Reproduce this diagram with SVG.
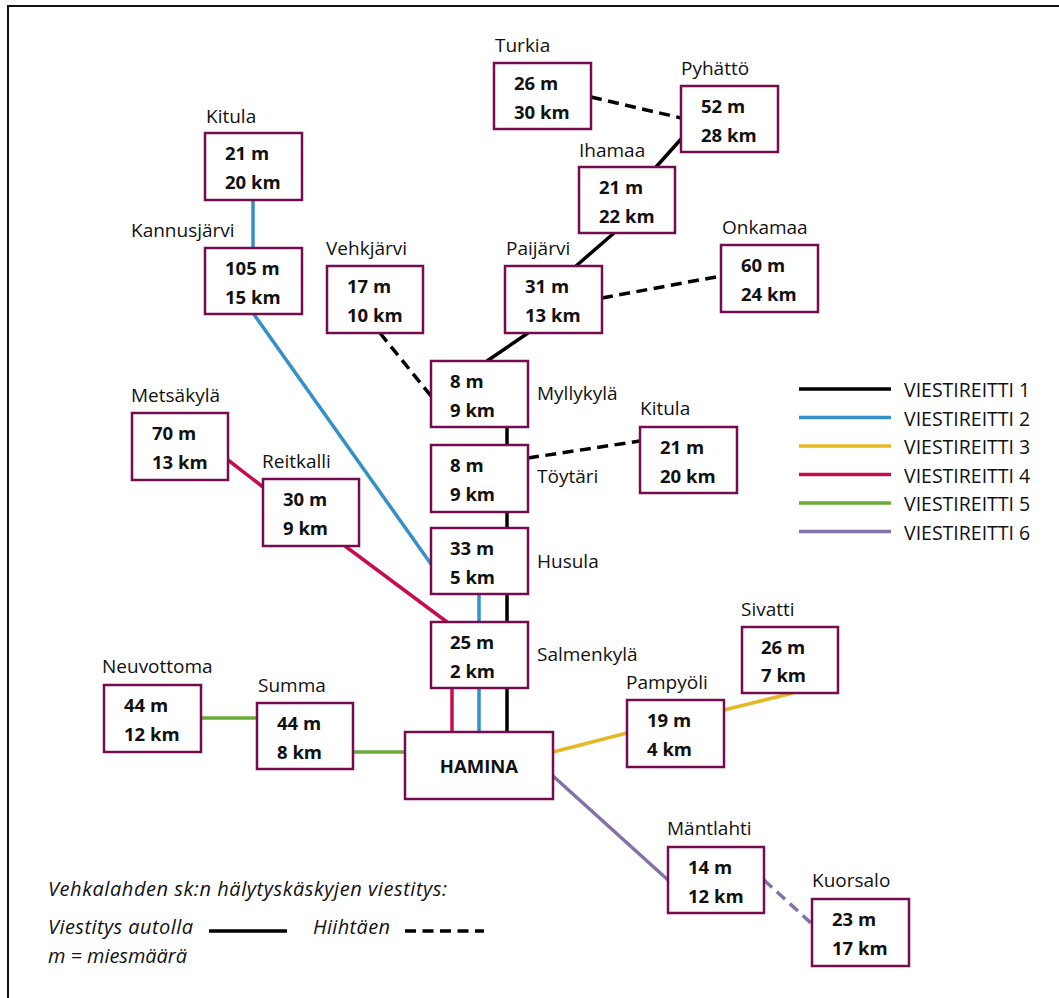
<svg xmlns="http://www.w3.org/2000/svg" width="1059" height="998" viewBox="0 0 1059 998">
<style>
.box{fill:#fff;stroke:#760c50;stroke-width:2.5}
.lbl{font-family:"Open Sans","Noto Sans","DejaVu Sans",sans-serif;font-size:19px;fill:#111}
.leg{font-family:"Open Sans","Noto Sans","DejaVu Sans",sans-serif;font-size:19.5px;fill:#111}
.val{font-family:"Open Sans","Noto Sans","DejaVu Sans",sans-serif;font-size:18.5px;font-weight:bold;fill:#111}
.it{font-family:"Open Sans","Noto Sans","DejaVu Sans",sans-serif;font-size:20px;font-style:italic;fill:#111}
.ln{fill:none;stroke-width:3.5}
.dash{stroke-dasharray:11 6.5}
.r1{stroke:#000}
.r2{stroke:#3590c9}
.r3{stroke:#e6b825}
.r4{stroke:#c80c4e}
.r5{stroke:#6aab3a}
.r6{stroke:#8272a8}
</style>
<rect x="8" y="6" width="1100" height="1100" fill="#fff" stroke="#111" stroke-width="2"/>
<g id="connectors">
<line class="ln r1" x1="682" y1="138" x2="656" y2="167"/>
<line class="ln r1" x1="614" y1="233" x2="576" y2="266"/>
<line class="ln r1" x1="528" y1="333" x2="487" y2="361"/>
<line class="ln r1" x1="507" y1="427" x2="507" y2="445"/>
<line class="ln r1" x1="507" y1="512" x2="507" y2="528"/>
<line class="ln r1" x1="507" y1="594" x2="507" y2="622"/>
<line class="ln r1" x1="507" y1="688" x2="507" y2="732"/>
<line class="ln r1 dash" x1="591" y1="97" x2="681" y2="118"/>
<line class="ln r1 dash" x1="380" y1="333" x2="431" y2="396"/>
<line class="ln r1 dash" x1="602" y1="298" x2="721" y2="276"/>
<line class="ln r1 dash" x1="528" y1="458" x2="640" y2="441"/>
<line class="ln r2" x1="253" y1="200" x2="253" y2="248"/>
<line class="ln r2" x1="253" y1="313" x2="431" y2="564"/>
<line class="ln r2" x1="479" y1="594" x2="479" y2="622"/>
<line class="ln r2" x1="479" y1="688" x2="479" y2="732"/>
<line class="ln r4" x1="228" y1="460" x2="263" y2="487"/>
<line class="ln r4" x1="345" y1="546" x2="447" y2="622"/>
<line class="ln r4" x1="452" y1="688" x2="452" y2="732"/>
<line class="ln r5" x1="201" y1="718" x2="257" y2="718"/>
<line class="ln r5" x1="353" y1="752" x2="405" y2="752"/>
<line class="ln r3" x1="553" y1="752" x2="627" y2="733"/>
<line class="ln r3" x1="724" y1="710" x2="793" y2="693"/>
<line class="ln r6" x1="553" y1="776" x2="668" y2="880"/>
<line class="ln r6 dash" x1="764" y1="880" x2="812" y2="924"/>
</g>
<g id="n-turkia"><rect class="box" x="494" y="63" width="97" height="66"/><text class="lbl" x="495" y="52">Turkia</text><text class="val" x="514" y="90">26 m</text><text class="val" x="514" y="119">30 km</text></g>
<g id="n-pyhatto"><rect class="box" x="681" y="86" width="97" height="66"/><text class="lbl" x="681" y="75">Pyhättö</text><text class="val" x="701" y="113">52 m</text><text class="val" x="701" y="142">28 km</text></g>
<g id="n-kitula1"><rect class="box" x="205" y="133" width="97" height="67"/><text class="lbl" x="206" y="123">Kitula</text><text class="val" x="225" y="160">21 m</text><text class="val" x="225" y="189">20 km</text></g>
<g id="n-kannusjarvi"><rect class="box" x="205" y="248" width="97" height="66"/><text class="lbl" x="131" y="237">Kannusjärvi</text><text class="val" x="225" y="275">105 m</text><text class="val" x="225" y="304">15 km</text></g>
<g id="n-vehkjarvi"><rect class="box" x="327" y="266" width="96" height="67"/><text class="lbl" x="326" y="255">Vehkjärvi</text><text class="val" x="347" y="293">17 m</text><text class="val" x="347" y="322">10 km</text></g>
<g id="n-ihamaa"><rect class="box" x="579" y="167" width="96" height="66"/><text class="lbl" x="579" y="157">Ihamaa</text><text class="val" x="599" y="194">21 m</text><text class="val" x="599" y="223">22 km</text></g>
<g id="n-paijarvi"><rect class="box" x="505" y="266" width="97" height="67"/><text class="lbl" x="506" y="255">Paijärvi</text><text class="val" x="525" y="293">31 m</text><text class="val" x="525" y="322">13 km</text></g>
<g id="n-onkamaa"><rect class="box" x="721" y="245" width="97" height="67"/><text class="lbl" x="722" y="234">Onkamaa</text><text class="val" x="741" y="272">60 m</text><text class="val" x="741" y="301">24 km</text></g>
<g id="n-myllykyla"><rect class="box" x="431" y="361" width="97" height="66"/><text class="lbl" x="537" y="400">Myllykylä</text><text class="val" x="450" y="388">8 m</text><text class="val" x="450" y="417">9 km</text></g>
<g id="n-toytari"><rect class="box" x="431" y="445" width="97" height="67"/><text class="lbl" x="537" y="483">Töytäri</text><text class="val" x="450" y="472">8 m</text><text class="val" x="450" y="501">9 km</text></g>
<g id="n-kitula2"><rect class="box" x="640" y="427" width="97" height="66"/><text class="lbl" x="640" y="415">Kitula</text><text class="val" x="660" y="454">21 m</text><text class="val" x="660" y="483">20 km</text></g>
<g id="n-husula"><rect class="box" x="431" y="528" width="97" height="66"/><text class="lbl" x="537" y="568">Husula</text><text class="val" x="450" y="555">33 m</text><text class="val" x="450" y="584">5 km</text></g>
<g id="n-salmenkyla"><rect class="box" x="431" y="622" width="97" height="66"/><text class="lbl" x="537" y="661">Salmenkylä</text><text class="val" x="450" y="649">25 m</text><text class="val" x="450" y="678">2 km</text></g>
<g id="n-hamina"><rect class="box" x="405" y="732" width="148" height="67"/><text class="val" x="479" y="773" text-anchor="middle">HAMINA</text></g>
<g id="n-metsakyla"><rect class="box" x="132" y="413" width="96" height="67"/><text class="lbl" x="131" y="402">Metsäkylä</text><text class="val" x="152" y="440">70 m</text><text class="val" x="152" y="469">13 km</text></g>
<g id="n-reitkalli"><rect class="box" x="263" y="479" width="96" height="67"/><text class="lbl" x="262" y="468">Reitkalli</text><text class="val" x="283" y="506">30 m</text><text class="val" x="283" y="535">9 km</text></g>
<g id="n-neuvottoma"><rect class="box" x="104" y="685" width="97" height="67"/><text class="lbl" x="102" y="673">Neuvottoma</text><text class="val" x="124" y="712">44 m</text><text class="val" x="124" y="741">12 km</text></g>
<g id="n-summa"><rect class="box" x="257" y="703" width="96" height="66"/><text class="lbl" x="258" y="692">Summa</text><text class="val" x="277" y="730">44 m</text><text class="val" x="277" y="759">8 km</text></g>
<g id="n-sivatti"><rect class="box" x="742" y="627" width="96" height="66"/><text class="lbl" x="741" y="616">Sivatti</text><text class="val" x="761" y="654">26 m</text><text class="val" x="761" y="682">7 km</text></g>
<g id="n-pampyoli"><rect class="box" x="627" y="700" width="97" height="67"/><text class="lbl" x="626" y="689">Pampyöli</text><text class="val" x="647" y="727">19 m</text><text class="val" x="647" y="756">4 km</text></g>
<g id="n-mantlahti"><rect class="box" x="668" y="847" width="96" height="66"/><text class="lbl" x="667" y="835">Mäntlahti</text><text class="val" x="688" y="874">14 m</text><text class="val" x="688" y="903">12 km</text></g>
<g id="n-kuorsalo"><rect class="box" x="812" y="899" width="97" height="67"/><text class="lbl" x="812" y="887">Kuorsalo</text><text class="val" x="832" y="926">23 m</text><text class="val" x="832" y="955">17 km</text></g>
<g id="legend">
<line class="ln r1" x1="799" y1="389" x2="891" y2="389"/><text class="leg" x="904" y="397">VIESTIREITTI 1</text>
<line class="ln r2" x1="799" y1="417.5" x2="891" y2="417.5"/><text class="leg" x="904" y="425.5">VIESTIREITTI 2</text>
<line class="ln r3" x1="799" y1="446" x2="891" y2="446"/><text class="leg" x="904" y="454">VIESTIREITTI 3</text>
<line class="ln r4" x1="799" y1="474.5" x2="891" y2="474.5"/><text class="leg" x="904" y="482.5">VIESTIREITTI 4</text>
<line class="ln r5" x1="799" y1="503" x2="891" y2="503"/><text class="leg" x="904" y="511">VIESTIREITTI 5</text>
<line class="ln r6" x1="799" y1="531.5" x2="891" y2="531.5"/><text class="leg" x="904" y="539.5">VIESTIREITTI 6</text>
</g>
<g id="note">
<text class="it" x="48" y="896" textLength="399" lengthAdjust="spacing">Vehkalahden sk:n hälytyskäskyjen viestitys:</text>
<text class="it" x="48" y="934" textLength="145" lengthAdjust="spacing">Viestitys autolla</text>
<line class="ln r1" x1="209" y1="931" x2="287" y2="931"/>
<text class="it" x="313" y="934" textLength="77" lengthAdjust="spacing">Hiihtäen</text>
<line class="ln r1 dash" x1="405" y1="931" x2="484" y2="931"/>
<text class="it" x="48" y="963" textLength="139" lengthAdjust="spacing">m = miesmäärä</text>
</g>
</svg>
